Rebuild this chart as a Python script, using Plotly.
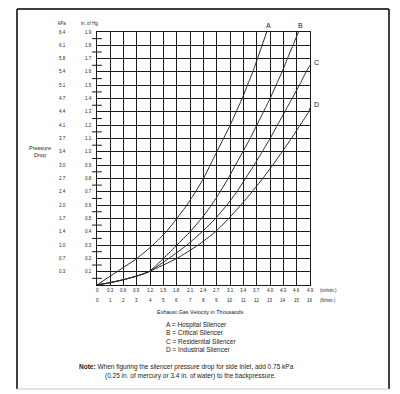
import plotly.graph_objects as go

# ---------------- data ----------------
# x: exhaust gas velocity, thousands of ft/min ; y: pressure drop, in. of Hg
A_x = [0, 1.5, 3.0, 4.2, 5.2, 6.0, 6.75, 7.4, 8.0, 8.5, 9.0, 9.5, 10.0, 10.45, 10.9, 11.3, 11.7, 12.05, 12.4, 12.75]
A_y = [0, 0.1, 0.2, 0.3, 0.4, 0.5, 0.6, 0.7, 0.8, 0.9, 1.0, 1.1, 1.2, 1.3, 1.4, 1.5, 1.6, 1.7, 1.8, 1.9]

B_x = [0, 1.0, 2.0, 3.0, 3.9, 5.0, 6.0, 7.0, 7.85, 8.6, 9.25, 9.85, 10.4, 10.95, 11.5, 12.0, 12.5, 13.0, 13.45, 13.9, 14.3, 14.72, 15.13]
B_y = [0, 0.018, 0.04, 0.068, 0.1, 0.2, 0.3, 0.4, 0.5, 0.6, 0.7, 0.8, 0.9, 1.0, 1.1, 1.2, 1.3, 1.4, 1.5, 1.6, 1.7, 1.8, 1.9]

C_x = [0, 1.0, 2.0, 3.0, 3.9, 5.4, 6.75, 7.9, 8.9, 9.75, 10.5, 11.15, 11.8, 12.4, 13.0, 13.55, 14.1, 14.65, 15.2, 15.7, 16.0]
C_y = [0, 0.018, 0.04, 0.068, 0.1, 0.2, 0.3, 0.4, 0.5, 0.6, 0.7, 0.8, 0.9, 1.0, 1.1, 1.2, 1.3, 1.4, 1.5, 1.6, 1.65]

D_x = [0, 1.0, 2.0, 3.0, 3.9, 6.0, 7.6, 8.9, 9.9, 10.8, 11.65, 12.45, 13.2, 13.9, 14.6, 15.25, 15.9, 16.0]
D_y = [0, 0.018, 0.04, 0.068, 0.1, 0.2, 0.3, 0.4, 0.5, 0.6, 0.7, 0.8, 0.9, 1.0, 1.1, 1.2, 1.3, 1.33]

curve_names = ["A", "B", "C", "D"]

# tick labels
ft_ticks = list(range(0, 17))
ft_labels = [str(v) for v in ft_ticks]
m_labels = ["0", "0.3", "0.6", "0.9", "1.2", "1.5", "1.8", "2.1", "2.4", "2.7",
            "3.1", "3.4", "3.7", "4.0", "4.3", "4.6", "4.9"]
hg_ticks = [0.1, 0.2, 0.3, 0.4, 0.5, 0.6, 0.7, 0.8, 0.9, 1.0,
            1.1, 1.2, 1.3, 1.4, 1.5, 1.6, 1.7, 1.8, 1.9]
hg_labels = ["0.1", "0.2", "0.3", "0.4", "0.5", "0.6", "0.7", "0.8", "0.9", "1.0",
             "1.1", "1.2", "1.3", "1.4", "1.5", "1.6", "1.7", "1.8", "1.9"]
kpa_labels = ["0.3", "0.7", "1.0", "1.4", "1.7", "2.0", "2.4", "2.7", "3.0", "3.4",
              "3.7", "4.1", "4.4", "4.7", "5.1", "5.4", "5.8", "6.1", "6.4"]
hg_minor = [0.05, 0.15, 0.25, 0.35, 0.45, 0.55, 0.65, 0.75, 0.85, 0.95,
            1.05, 1.15, 1.25, 1.35, 1.45, 1.55, 1.65, 1.75, 1.85]

legend_lines = ["A = Hospital Silencer", "B = Critical Silencer",
                "C = Residential Silencer", "D = Industrial Silencer"]

# ---------------- layout geometry ----------------
# the page body has an 8 px default margin; the figure is sized to fit the window
OFF = 8
W, H = 400 - OFF, 394 - OFF
PLOT_L, PLOT_R, PLOT_T, PLOT_B = 97, 310, 32, 285   # target page pixels
L = PLOT_L - OFF
T = PLOT_T - OFF
R = W - (PLOT_R - OFF)
B = H - (PLOT_B - OFF)
PW, PH = PLOT_R - PLOT_L, PLOT_B - PLOT_T


def px(xp):
    return (xp - PLOT_L) / PW


def py(yp):
    return (PLOT_B - yp) / PH


FONT = "Liberation Sans, Arial, Helvetica, sans-serif"
INK = "#1a1a1a"

fig = go.Figure()

for name, xs, ys in zip(curve_names, [A_x, B_x, C_x, D_x], [A_y, B_y, C_y, D_y]):
    fig.add_trace(go.Scatter(
        x=xs, y=ys, mode="lines", name=name,
        line=dict(color="#2a2a2a", width=1, shape="spline", smoothing=0.5),
        hoverinfo="skip", showlegend=False))

# minor ticks crossing the y axis
fig.add_trace(go.Scatter(
    x=[0] * len(hg_minor), y=hg_minor, mode="markers",
    marker=dict(symbol="line-ew", size=7, line=dict(color=INK, width=1)),
    cliponaxis=False, hoverinfo="skip", showlegend=False))

ann = []
for v, t in zip(hg_ticks, hg_labels):
    ann.append(dict(x=0, xref="paper", y=v, yref="y", text=t, showarrow=False,
                    xanchor="center", yanchor="middle", xshift=-9,
                    font=dict(size=4.5, family=FONT, color=INK)))
for v, t in zip(hg_ticks, kpa_labels):
    ann.append(dict(x=0, xref="paper", y=v, yref="y", text=t, showarrow=False,
                    xanchor="center", yanchor="middle", xshift=-35,
                    font=dict(size=4.5, family=FONT, color=INK)))
for v, t1, t2 in zip(ft_ticks, m_labels, ft_labels):
    ann.append(dict(x=v, xref="x", y=0, yref="paper", text=t1, showarrow=False,
                    xanchor="center", yanchor="middle", yshift=-5,
                    font=dict(size=4.5, family=FONT, color=INK)))
    ann.append(dict(x=v, xref="x", y=0, yref="paper", text=t2, showarrow=False,
                    xanchor="center", yanchor="middle", yshift=-15,
                    font=dict(size=4.5, family=FONT, color=INK)))
ann.append(dict(x=px(328), xref="paper", y=py(290), yref="paper", text="(m/min.)",
                showarrow=False, xanchor="center", yanchor="middle",
                font=dict(size=4.5, family=FONT, color=INK)))
ann.append(dict(x=px(328), xref="paper", y=py(300), yref="paper", text="(ft/min.)",
                showarrow=False, xanchor="center", yanchor="middle",
                font=dict(size=4.5, family=FONT, color=INK)))
ann.append(dict(x=px(62), xref="paper", y=py(24), yref="paper", text="kPa",
                showarrow=False, xanchor="center", yanchor="middle",
                font=dict(size=4.5, family=FONT, color=INK)))
ann.append(dict(x=px(89), xref="paper", y=py(24), yref="paper", text="in. of Hg",
                showarrow=False, xanchor="center", yanchor="middle",
                font=dict(size=4.5, family=FONT, color=INK)))
ann.append(dict(x=px(40), xref="paper", y=py(151.5), yref="paper",
                text="Pressure<br>Drop", showarrow=False, xanchor="center",
                yanchor="middle", font=dict(size=5.5, family=FONT, color=INK)))
ann.append(dict(x=px(200), xref="paper", y=py(312), yref="paper",
                text="Exhaust Gas Velocity in Thousands", showarrow=False,
                xanchor="center", yanchor="middle",
                font=dict(size=5.5, family=FONT, color=INK)))
ends = [(A_x[-1], A_y[-1], 2, 7), (B_x[-1], B_y[-1], 2, 7),
        (C_x[-1], C_y[-1], 6, 3), (D_x[-1], D_y[-1], 6, 3)]
for name, (ex, ey, dx, dy) in zip(curve_names, ends):
    ann.append(dict(x=ex, xref="x", y=ey, yref="y", text=name, showarrow=False,
                    xanchor="center", yanchor="middle", xshift=dx, yshift=dy,
                    font=dict(size=7, family=FONT, color=INK)))
ann.append(dict(x=px(164), xref="paper", y=py(336.5), yref="paper",
                text="<br>".join(legend_lines), showarrow=False, align="left",
                xanchor="left", yanchor="middle",
                font=dict(size=6.5, family=FONT, color=INK)))
ann.append(dict(x=px(77), xref="paper", y=py(366.5), yref="paper",
                text="<b>Note:</b> When figuring the silencer pressure drop for side inlet, add 0.75 kPa",
                showarrow=False, xanchor="left", yanchor="middle",
                font=dict(size=6.5, family=FONT, color=INK)))
ann.append(dict(x=px(103), xref="paper", y=py(375.5), yref="paper",
                text="(0.25 in. of mercury or 3.4 in. of water) to the backpressure.",
                showarrow=False, xanchor="left", yanchor="middle",
                font=dict(size=6.5, family=FONT, color=INK)))

# outer frame of the figure (top edge as close to the page top as the figure allows)
FR_L, FR_R, FR_T, FR_B = 17, 389, 9, 389
frame = dict(color="black", width=1.5)
shapes = [
    dict(type="line", xref="paper", yref="paper", x0=px(FR_L), x1=px(FR_L),
         y0=py(FR_B), y1=py(FR_T), line=frame),
    dict(type="line", xref="paper", yref="paper", x0=px(FR_R), x1=px(FR_R),
         y0=py(FR_B), y1=py(FR_T), line=frame),
    dict(type="line", xref="paper", yref="paper", x0=px(FR_L), x1=px(FR_R),
         y0=py(FR_T), y1=py(FR_T), line=frame),
    dict(type="line", xref="paper", yref="paper", x0=px(FR_L), x1=px(FR_R),
         y0=py(FR_B), y1=py(FR_B), line=dict(color="#c8c8c8", width=1)),
]

fig.update_layout(
    width=W, height=H,
    margin=dict(l=L, r=R, t=T, b=B, pad=0),
    paper_bgcolor="white", plot_bgcolor="white",
    font=dict(family=FONT, color=INK),
    annotations=ann, shapes=shapes, showlegend=False,
    xaxis=dict(range=[0, 16], tickvals=ft_ticks, showticklabels=False, ticks="",
               showgrid=True, gridcolor=INK, gridwidth=1, zeroline=False,
               showline=True, linecolor=INK, linewidth=1, mirror=True, fixedrange=True),
    yaxis=dict(range=[0, 1.9], tickvals=[0] + hg_ticks, showticklabels=False, ticks="",
               showgrid=True, gridcolor=INK, gridwidth=1, zeroline=False,
               showline=True, linecolor=INK, linewidth=1, mirror=True, fixedrange=True),
)

fig.write_html("out.html")
